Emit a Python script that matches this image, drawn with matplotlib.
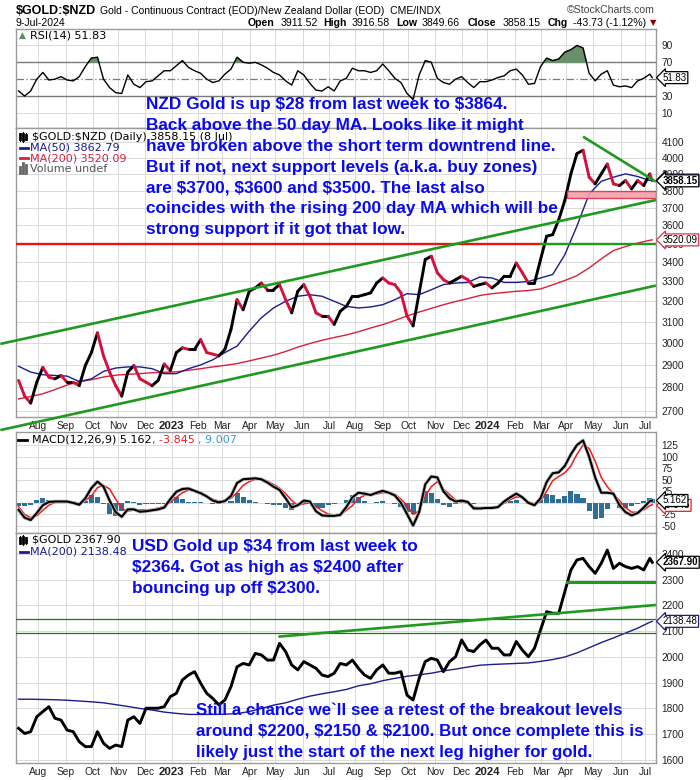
import numpy as np
import pandas as pd
import matplotlib
matplotlib.use("Agg")
import matplotlib.pyplot as plt
from matplotlib.collections import LineCollection
from matplotlib.patches import Rectangle
from matplotlib.transforms import blended_transform_factory as blend

plt.rcParams['font.family'] = ['Liberation Sans', 'DejaVu Sans']
plt.rcParams['text.parse_math'] = False

# ---------------- data (weekly samples, Fridays, + final day) ----------------
WEEK_START = "2022-07-08"
LAST_DAY = "2024-07-09"

nzd_close = [2830, 2762, 2732, 2822, 2888, 2844, 2837, 2852, 2822, 2822,
             2807, 2896, 2955, 3047, 2940, 2867, 2807, 2762, 2867, 2896,
             2837, 2822, 2807, 2830, 2903, 2874, 2955, 2977, 2970, 2970,
             3015, 2955, 2948, 2940, 2970, 3063, 3208, 3158, 3250, 3267,
             3292, 3258, 3258, 3284, 3208, 3143, 3250, 3284, 3225, 3143,
             3127, 3127, 3087, 3151, 3175, 3225, 3225, 3233, 3242, 3292,
             3318, 3292, 3284, 3242, 3127, 3080, 3242, 3414, 3432, 3345,
             3309, 3292, 3309, 3327, 3309, 3275, 3284, 3292, 3267, 3292,
             3327, 3327, 3396, 3345, 3292, 3292, 3414, 3540, 3549, 3632,
             3743, 3900, 4025, 4046, 3880, 3840, 3900, 3960, 3840, 3830,
             3860, 3810, 3860, 3830, 3900, 3858.15]

rsi14 = [36, 30, 36, 50, 58, 49, 50, 53, 49, 48,
         53, 65, 75, 76, 50, 40, 34, 33, 55, 44,
         40, 47, 48, 54, 60, 60, 66, 72, 64, 60,
         57, 50, 46, 48, 56, 62, 76, 70, 69, 70,
         67, 63, 58, 55, 48, 43, 60, 55, 45, 37,
         36, 41, 36, 48, 51, 63, 60, 60, 58, 60,
         68, 60, 51, 46, 33, 26, 55, 72, 70, 51,
         46, 44, 50, 53, 46, 40, 47, 47, 49, 52,
         54, 60, 62, 55, 44, 45, 65, 75, 72, 74,
         82, 85, 90, 87, 57, 48, 56, 60, 43, 41,
         42, 40, 48, 51, 56, 51.83]

macd_line = [-15, -32, -37, -22, -5, 2, 3, 3, 3, 0,
             -4, 10, 32, 46, 35, 5, -20, -30, -14, -14,
             -19, -18, -16, -14, -10, 8, 24, 30, 31, 26,
             21, 14, 5, 1, 4, 15, 43, 51, 52, 53,
             51, 44, 35, 28, 10, -10, -5, 5, 3, -18,
             -27, -28, -28, -26, -9, 12, 22, 20, 17, 22,
             26, 22, 16, 0, -24, -49, -20, 40, 57, 55,
             25, 10, 3, 5, 2, -12, -12, -11, -11, -9,
             3, 12, 20, 12, 0, -5, 10, 45, 64, 66,
             80, 105, 125, 135, 100, 55, 22, 22, 20, -5,
             -20, -27, -22, -10, 4, 5.162]

macd_signal = [-8, -25, -32, -28, -16, -5, 1, 2, 3, 2,
               -1, 5, 15, 33, 38, 30, 8, -12, -18, -15,
               -15, -15, -14, -11, -8, 2, 12, 22, 28, 25,
               20, 15, 8, 4, 5, 10, 22, 38, 46, 51,
               52, 47, 40, 32, 20, 5, -5, -2, 0, -8,
               -17, -24, -26, -26, -16, -6, 10, 16, 17, 19,
               22, 22, 19, 8, -5, -25, -17, 15, 35, 46,
               30, 18, 6, 2, 0, -9, -11, -11, -10, -8,
               -1, 7, 13, 12, 2, -2, 3, 25, 48, 57,
               65, 80, 105, 125, 118, 90, 55, 35, 20, 5,
               -10, -20, -20, -15, -6, -3.845]

usd_close = [1723, 1703, 1710, 1768, 1788, 1807, 1762, 1755, 1716, 1710,
             1671, 1652, 1652, 1710, 1665, 1645, 1658, 1652, 1755, 1768,
             1742, 1801, 1801, 1801, 1807, 1846, 1859, 1911, 1930, 1943,
             1898, 1859, 1839, 1814, 1833, 1885, 1962, 1975, 1969, 2014,
             2008, 1988, 1988, 2053, 2021, 1969, 1950, 1982, 1969, 1956,
             1930, 1924, 1937, 1975, 1969, 1988, 1956, 1930, 1917, 1950,
             1969, 1937, 1937, 1943, 1852, 1833, 1917, 1982, 1995, 1988,
             1943, 1982, 2001, 2066, 2027, 2021, 2047, 2066, 2034, 2034,
             2008, 2008, 2060, 2027, 2001, 2034, 2105, 2176, 2170, 2170,
             2254, 2338, 2377, 2383, 2351, 2325, 2364, 2415, 2344, 2364,
             2351, 2344, 2351, 2338, 2383, 2367.90]

# moving averages sampled every two weeks (+ final day)
nzd_ma50 = [2893, 2867, 2855, 2852, 2849, 2825, 2837, 2870, 2885, 2890,
            2890, 2882, 2860, 2860, 2882, 2899, 2922, 2955, 2985, 3055,
            3119, 3167, 3200, 3225, 3233, 3225, 3200, 3175, 3167, 3172,
            3183, 3208, 3238, 3233, 3258, 3284, 3292, 3295, 3323, 3318,
            3295, 3295, 3300, 3318, 3336, 3440, 3597, 3780, 3855, 3880,
            3900, 3884, 3860, 3862.79]
nzd_ma200 = [2750, 2760, 2772, 2790, 2810, 2824, 2833, 2845, 2853, 2857,
             2860, 2864, 2866, 2868, 2875, 2882, 2890, 2897, 2905, 2917,
             2930, 2943, 2960, 2980, 2997, 3012, 3025, 3037, 3052, 3070,
             3086, 3106, 3128, 3147, 3165, 3183, 3199, 3213, 3229, 3238,
             3244, 3250, 3254, 3262, 3283, 3305, 3330, 3370, 3418, 3462,
             3484, 3503, 3518, 3520.09]
usd_ma200 = [1836, 1836, 1835, 1834, 1832, 1829, 1826, 1822, 1815, 1808,
             1800, 1794, 1786, 1781, 1777, 1777, 1777, 1778, 1780, 1788,
             1800, 1813, 1822, 1836, 1848, 1857, 1865, 1874, 1888, 1896,
             1908, 1917, 1925, 1931, 1937, 1946, 1953, 1961, 1968, 1971,
             1973, 1975, 1977, 1983, 1990, 2000, 2016, 2036, 2056, 2074,
             2093, 2112, 2135, 2138.48]

nzd_ticks = list(range(2700, 4101, 100))
usd_ticks = list(range(1600, 2401, 100))
macd_ticks = [-50, -25, 0, 25, 50, 75, 100, 125]
macd_labels = ['-50', '-25', '', '25', '50', '75', '100', '125']
rsi_ticks = [10, 30, 70, 90]

# hand-drawn annotation lines (date, value)
nzd_channel_upper = [("2022-06-17", 2995), ("2024-07-12", 3745)]
nzd_channel_lower = [("2022-06-17", 2620), ("2024-07-12", 3279)]
nzd_downtrend = [("2024-04-19", 4132), ("2024-07-12", 3853)]
nzd_level = 3500
nzd_level_switch = "2024-03-01"
nzd_zone = ("2024-04-02", 3755, 3800)
usd_trend = [("2023-05-04", 2079), ("2024-07-12", 2202)]
usd_support = ("2024-04-02", 2293)
usd_levels = [2146, 2092]

# ---------------- helpers ----------------
W, H = 700, 780
fig = plt.figure(figsize=(W / 100, H / 100), dpi=100)
ORIGIN = np.datetime64("2022-08-01")
XMIN, XMAX = -18.1, 509.1
END_X = 509.1


def bd(dates):
    d = pd.to_datetime(pd.Index(dates)).values.astype("datetime64[D]")
    return np.busday_count(ORIGIN, d).astype(float)


def weekly_x(n):
    d = pd.date_range(WEEK_START, periods=n - 1, freq="7D").append(pd.DatetimeIndex([LAST_DAY]))
    return bd(d)


def biweekly_x(n):
    d = pd.date_range(WEEK_START, periods=n - 1, freq="14D").append(pd.DatetimeIndex([LAST_DAY]))
    return bd(d)


def panel(top, bottom):
    return fig.add_axes([16 / W, 1 - bottom / H, 640 / W, (bottom - top) / H])


def fx(x):
    return x / W


def fy(y):
    return 1 - y / H


GRID = '#dadada'
SPINE = '#9a9a9a'
months = pd.date_range("2022-08-01", "2024-07-01", freq="BMS")
mx = bd(months)
mlabels = [str(d.year) if d.month == 1 else d.strftime('%b') for d in months]


def style(ax, yticks, ylabels=None, xlabels=False):
    ax.set_xlim(XMIN, XMAX)
    for s in ax.spines.values():
        s.set_color(SPINE)
        s.set_linewidth(1.0)
    ax.set_xticks(mx)
    if xlabels:
        ax.set_xticklabels(mlabels, fontsize=7.4, color='#222222')
        for t, lab in zip(ax.get_xticklabels(), mlabels):
            if lab.isdigit():
                t.set_fontweight('bold')
                t.set_fontsize(8.2)
    else:
        ax.set_xticklabels([])
    ax.tick_params(axis='x', length=0, pad=2)
    ax.yaxis.tick_right()
    ax.set_yticks(yticks)
    ax.set_yticks([], minor=True)
    ax.set_yticklabels(ylabels if ylabels is not None else [str(v) for v in yticks],
                       fontsize=7.3, color='#222222')
    ax.tick_params(axis='y', length=0, pad=4)
    ax.grid(True, color=GRID, linewidth=0.7)
    ax.set_axisbelow(True)


def tag(ax, value, text, ec='black', bold=False, tc='black', z=5):
    tr = blend(ax.transAxes, ax.transData)
    ax.text(1.0105, value, text, transform=tr, ha='left', va='center',
            fontsize=7.0, fontweight='bold' if bold else 'normal', color=tc,
            bbox=dict(boxstyle='larrow,pad=0.1', fc='white', ec=ec, lw=0.9),
            clip_on=False, zorder=z)


def colored(ax, x, y, lw, up='black', down='#d4103c'):
    y = np.asarray(y, float)
    pts = np.column_stack([x, y])
    segs = np.stack([pts[:-1], pts[1:]], axis=1)
    cols = [down if y[i + 1] < y[i] else up for i in range(len(y) - 1)]
    ax.add_collection(LineCollection(segs, colors=cols, linewidths=lw,
                                     capstyle='round', joinstyle='round', zorder=4))


def candle_icon(x0, yc, color='black'):
    # tiny candlestick glyph used by the legend rows
    for i, (h, b) in enumerate([(4, 2.5), (5, 3), (3.5, 2)]):
        xx = fx(x0 + i * 3.2)
        fig.add_artist(plt.Line2D([xx, xx], [fy(yc + h), fy(yc - h)], color=color, lw=0.8))
        fig.add_artist(plt.Line2D([xx, xx], [fy(yc + b), fy(yc - b)], color=color, lw=2.0))


# ---------------- header ----------------
fig.text(fx(16), fy(11), "$GOLD:$NZD", fontsize=9.0, fontweight='bold', va='center')
fig.text(fx(100), fy(11), "Gold - Continuous Contract (EOD)/New Zealand Dollar (EOD)  CME/INDX",
         fontsize=7.5, va='center')
fig.text(fx(655), fy(10), "\u00a9StockCharts.com", fontsize=7.6, va='center', ha='right', color='#444444')
fig.text(fx(16), fy(22.5), "9-Jul-2024", fontsize=7.6, va='center')
hdr = [(248, "Open", True), (281, "3911.52", False), (323, "High", True), (351.5, "3916.58", False),
       (396.5, "Low", True), (421.5, "3849.66", False), (468, "Close", True), (503, "3858.15", False),
       (548, "Chg", True), (573, "-43.73 (-1.12%)", False)]
for x0, s, b in hdr:
    fig.text(fx(x0), fy(22.5), s, fontsize=7.6, fontweight='bold' if b else 'normal', va='center')
fig.text(fx(650), fy(22.5), "\u25bc", fontsize=6, color='#8b0000', va='center', family='DejaVu Sans')

# ---------------- RSI panel ----------------
ax1 = panel(29.3, 128.3)
xw = weekly_x(len(rsi14))
r = np.asarray(rsi14, float)
ax1.set_ylim(-8.3, 109.2)
style(ax1, rsi_ticks)
ax1.axhline(70, color='#7a7a7a', lw=1.0, zorder=2)
ax1.axhline(30, color='#7a7a7a', lw=1.0, zorder=2)
ax1.axhline(50, color='#7a7a7a', lw=0.9, ls=(0, (6, 2, 1, 2)), zorder=2)
ax1.fill_between(xw, r, 70, where=r > 70, interpolate=True, color='#6a8f6a', zorder=3)
ax1.fill_between(xw, r, 30, where=r < 30, interpolate=True, color='#a8a8a8', zorder=3)
ax1.plot(xw, r, color='black', lw=1.0, zorder=4)
tag(ax1, rsi14[-1], "51.83")
fig.text(fx(19), fy(35), "\u25b2", fontsize=6.5, color='#5f8a5f', va='center', family='DejaVu Sans')
fig.text(fx(30.5), fy(35), "RSI(14) 51.83", fontsize=8, family='DejaVu Sans', va='center')

# ---------------- main NZD panel ----------------
ax2 = panel(128.3, 416.7)
ax2.set_yscale('log')
ax2.set_ylim(2675, 4186)
style(ax2, nzd_ticks, xlabels=True)
ax2.tick_params(axis='x', pad=3)

xb = biweekly_x(len(nzd_ma200))
ax2.plot(xb, nzd_ma200, color='#d8203c', lw=1.0, zorder=3)
ax2.plot(biweekly_x(len(nzd_ma50)), nzd_ma50, color='#1c1c8e', lw=1.0, zorder=3)
colored(ax2, weekly_x(len(nzd_close)), nzd_close, 2.1)

GREEN = '#1f9a1f'
sw = bd([nzd_level_switch])[0]
ax2.plot([XMIN, sw], [nzd_level, nzd_level], color='#ee1111', lw=1.7, zorder=5)
ax2.plot([sw, END_X], [nzd_level, nzd_level], color=GREEN, lw=1.7, zorder=5)
for line in (nzd_channel_upper, nzd_channel_lower, nzd_downtrend):
    xs = bd([p[0] for p in line])
    ax2.plot(xs, [p[1] for p in line], color=GREEN, lw=1.9, zorder=6, clip_on=False,
             solid_capstyle='butt')
zx = bd([nzd_zone[0]])[0]
ax2.add_patch(Rectangle((zx, nzd_zone[1]), END_X - zx, nzd_zone[2] - nzd_zone[1],
                        fc='#f2a0ac', ec='#e0304a', lw=1.0, alpha=0.9, zorder=5))
tag(ax2, nzd_ma200[-1], "3520.09", ec='#e0304a')
tag(ax2, nzd_ma50[-1], "3862.79", ec='#1c1c8e', z=5)
tag(ax2, nzd_close[-1], "3858.15", bold=True, z=6)

candle_icon(19.5, 136.5)
fig.text(fx(31.5), fy(136.5), "$GOLD:$NZD (Daily) 3858.15 (8 Jul)", fontsize=8, family='DejaVu Sans', va='center')
fig.add_artist(plt.Line2D([fx(20), fx(28)], [fy(147.5)] * 2, color='#1c1c8e', lw=2))
fig.text(fx(29.5), fy(147.5), "MA(50) 3862.79", fontsize=8, family='DejaVu Sans', va='center', color='#1c1c8e')
fig.add_artist(plt.Line2D([fx(20), fx(28)], [fy(158.3)] * 2, color='#d8203c', lw=2))
fig.text(fx(29.5), fy(158.3), "MA(200) 3520.09", fontsize=8, family='DejaVu Sans', va='center', color='#d8203c')
for i, h in enumerate([3, 5, 4]):
    xx = fx(20 + i * 3)
    fig.add_artist(plt.Line2D([xx, xx], [fy(172.5), fy(172.5 - 2 * h)], color='#666666', lw=2.0))
fig.text(fx(29.5), fy(169), "Volume undef", fontsize=8, family='DejaVu Sans', va='center', color='#555555')

# ---------------- MACD panel ----------------
ax3 = panel(432.3, 533.3)
ax3.set_ylim(-65.7, 152.5)
style(ax3, macd_ticks, macd_labels)
xm = weekly_x(len(macd_line))
hist = np.asarray(macd_line) - np.asarray(macd_signal)
ax3.bar(xm, hist, width=4.2, color='#2f6f95', zorder=2)
ax3.plot(xm, macd_signal, color='#ee1c1c', lw=1.1, zorder=3)
ax3.plot(xm, macd_line, color='#bbbbbb', lw=2.6, zorder=3)
ax3.plot(xm, macd_line, color='black', lw=1.5, zorder=4)
tag(ax3, macd_signal[-1] - 1.5, "-3.845", ec='#ee1c1c', z=4)
tag(ax3, macd_line[-1], "5.162", z=5)
fig.add_artist(plt.Line2D([fx(18), fx(27)], [fy(439.5)] * 2, color='black', lw=2))
fig.text(fx(31.5), fy(439.5), "MACD(12,26,9) 5.162", fontsize=8, family='DejaVu Sans', va='center')
fig.text(fx(151.5), fy(439.5), ", -3.845", fontsize=8, family='DejaVu Sans', va='center', color='#ee1c1c')
fig.text(fx(197.5), fy(439.5), ", 9.007", fontsize=8, family='DejaVu Sans', va='center', color='#3a9ad0')

# ---------------- USD panel ----------------
ax4 = panel(533.3, 763.0)
ax4.set_ylim(1588.3, 2480.4)
style(ax4, usd_ticks, xlabels=True)
ax4.tick_params(axis='x', pad=3)
ax4.plot(biweekly_x(len(usd_ma200)), usd_ma200, color='#1c1c8e', lw=1.0, zorder=3)
ax4.plot(weekly_x(len(usd_close)), usd_close, color='black', lw=2.1, zorder=4,
         solid_joinstyle='round')
for lv in usd_levels:
    ax4.axhline(lv, color='#0c820c', lw=0.9, zorder=5)
xs = bd([p[0] for p in usd_trend])
ax4.plot(xs, [p[1] for p in usd_trend], color=GREEN, lw=1.9, zorder=6, solid_capstyle='butt')
sx = bd([usd_support[0]])[0]
ax4.plot([sx, END_X], [usd_support[1]] * 2, color=GREEN, lw=2.2, zorder=6)
tag(ax4, usd_ma200[-1], "2138.48", ec='#1c1c8e')
tag(ax4, usd_close[-1], "2367.90", bold=True)
candle_icon(19.5, 540)
fig.text(fx(31.5), fy(540), "$GOLD 2367.90", fontsize=8, family='DejaVu Sans', va='center')
fig.add_artist(plt.Line2D([fx(20), fx(28)], [fy(551.5)] * 2, color='#1c1c8e', lw=2))
fig.text(fx(29.5), fy(551.5), "MA(200) 2138.48", fontsize=8, family='DejaVu Sans', va='center', color='#1c1c8e')

# ---------------- commentary ----------------
BLUE = '#0a0af0'
nzd_text = ["NZD Gold is up $28 from last week to $3864.",
            "Back above the 50 day MA. Looks like it might",
            "have broken above the short term downtrend line.",
            "But if not, next support levels (a.k.a. buy zones)",
            "are $3700, $3600 and $3500. The last also",
            "coincides with the rising 200 day MA which will be",
            "strong support if it got that low."]
for i, s in enumerate(nzd_text):
    fig.text(fx(146.5), fy(109.5 + 20.8 * i), s, fontsize=12.4, fontweight='bold',
             color=BLUE, va='baseline', zorder=10)
usd_text = ["USD Gold up $34 from last week to",
            "$2364. Got as high as $2400 after",
            "bouncing up off $2300."]
for i, s in enumerate(usd_text):
    fig.text(fx(131.5), fy(551.3 + 20.8 * i), s, fontsize=12.4, fontweight='bold',
             color=BLUE, va='baseline', zorder=10)
low_text = ["Still a chance we`ll see a retest of the breakout levels",
            "around $2200, $2150 & $2100. But once complete this is",
            "likely just the start of the next leg higher for gold."]
for i, s in enumerate(low_text):
    fig.text(fx(195.5), fy(715.3 + 20.8 * i), s, fontsize=12.2, fontweight='bold',
             color=BLUE, va='baseline', zorder=10)

fig.savefig("out.png", dpi=100, facecolor='white')
